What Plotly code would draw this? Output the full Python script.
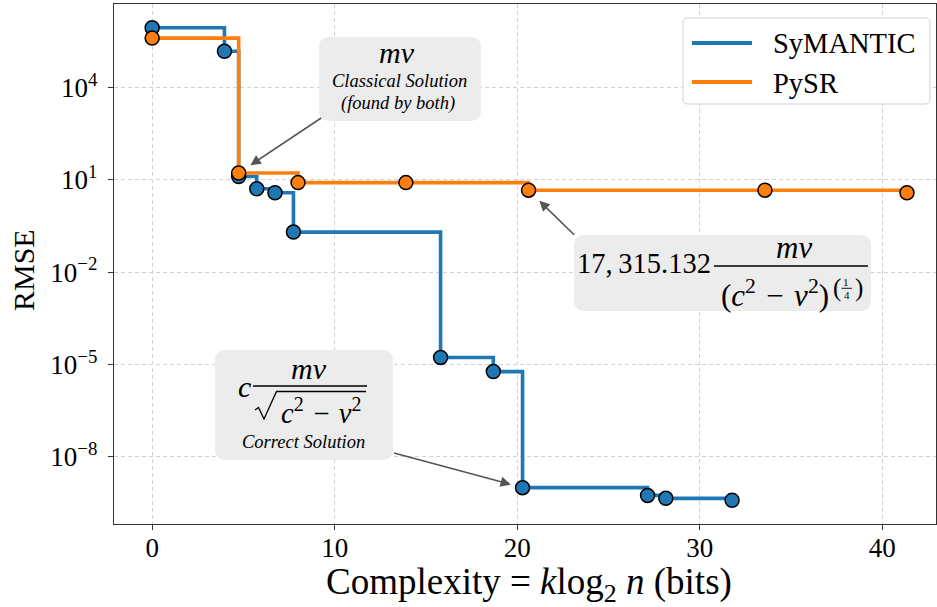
import numpy as np
import plotly.graph_objects as go

# Pareto fronts: complexity (bits) vs RMSE
symantic_complexity = [0.0, 3.96, 4.74, 5.73, 6.73, 7.74, 15.80, 18.69, 20.29, 27.14, 28.14, 31.77]
symantic_rmse = [8.7e5, 1.5e5, 12.8, 5.1, 3.8, 0.20, 1.7e-5, 5.9e-6, 1.0e-9, 5.6e-10, 4.5e-10, 3.9e-10]

pysr_complexity = [0.0, 4.74, 7.99, 13.9, 20.62, 33.57, 41.35]
pysr_rmse = [4.0e5, 16.6, 8.1, 8.1, 4.6, 4.6, 3.8]

x_ticks = [0, 10, 20, 30, 40]
y_ticks = [1e-8, 1e-5, 1e-2, 1e1, 1e4]
y_tick_labels = ["10<sup>\u22128</sup>", "10<sup>\u22125</sup>", "10<sup>\u22122</sup>",
                 "10<sup>1</sup>", "10<sup>4</sup>"]

BLUE = "#1f77b4"
ORANGE = "#ff7f0e"
FONT = "Liberation Serif"

W, H = 937, 607
L, R, T, B = 114, 1, 4, 83
PW, PH = W - L - R, H - T - B


def P(xp, yp):
    """pixel position -> paper coordinates"""
    return (xp - L) / PW, (H - B - yp) / PH


def rounded_path(x0, y0, x1, y1, r):
    pts = [("M", [(x0 + r, y0)]), ("L", [(x1 - r, y0)]), ("Q", [(x1, y0), (x1, y0 + r)]),
           ("L", [(x1, y1 - r)]), ("Q", [(x1, y1), (x1 - r, y1)]), ("L", [(x0 + r, y1)]),
           ("Q", [(x0, y1), (x0, y1 - r)]), ("L", [(x0, y0 + r)]), ("Q", [(x0, y0), (x0 + r, y0)])]
    s = ""
    for cmd, pp in pts:
        s += cmd + " " + " ".join("%.5f,%.5f" % P(a, b) for a, b in pp) + " "
    return s + "Z"


def poly_path(points):
    return "M " + " L ".join("%.5f,%.5f" % P(a, b) for a, b in points)


fig = go.Figure()
fig.add_trace(go.Scatter(
    x=symantic_complexity, y=symantic_rmse, name="SyMANTIC", mode="lines+markers",
    line=dict(color=BLUE, width=3.6, shape="hv"),
    marker=dict(size=14, color=BLUE, line=dict(color="black", width=1.5)),
    showlegend=False))
fig.add_trace(go.Scatter(
    x=pysr_complexity, y=pysr_rmse, name="PySR", mode="lines+markers",
    line=dict(color=ORANGE, width=3.6, shape="hv"),
    marker=dict(size=14, color=ORANGE, line=dict(color="black", width=1.5)),
    showlegend=False))

shapes = []
annotations = []


def text(s, xp, yp, size, xanchor="center", color="black"):
    x, y = P(xp, yp)
    annotations.append(dict(text=s, x=x, y=y, xref="paper", yref="paper", showarrow=False,
                            xanchor=xanchor, yanchor="middle",
                            font=dict(family=FONT, size=size, color=color)))


def hline(x0, x1, yp, width=1.3, color="black"):
    a = P(x0, yp)
    b = P(x1, yp)
    shapes.append(dict(type="line", xref="paper", yref="paper", x0=a[0], y0=a[1], x1=b[0], y1=b[1],
                       line=dict(color=color, width=width), layer="above"))


BOX = "#ececec"
for box in [(319, 37, 481, 121), (574, 235, 871, 311), (215, 350, 393, 460)]:
    shapes.append(dict(type="path", xref="paper", yref="paper", path=rounded_path(*box, 11),
                       fillcolor=BOX, line=dict(width=0), layer="above"))

# legend
shapes.append(dict(type="path", xref="paper", yref="paper", path=rounded_path(683, 18, 930, 104, 5),
                   fillcolor="white", line=dict(color="#d0d0d0", width=1), layer="above"))
hline(692, 752, 43, width=4, color=BLUE)
hline(692, 752, 82, width=4, color=ORANGE)
text("SyMANTIC", 771, 44, 28.5, xanchor="left")
text("PySR", 771, 83, 28.5, xanchor="left")

# classical solution box
text("<i>mv</i>", 397, 52, 30)
text("<i>Classical Solution</i>", 399, 81, 18.5)
text("<i>(found by both)</i>", 398, 103, 18.5)

# PySR expression box
SP = "\u2004"
text("17,\u2009315.132", 713, 263, 28.5, xanchor="right")
hline(714, 868, 266)
text("<i>mv</i>", 794, 247, 31)
text("(<i>c</i><sup>2</sup>" + SP + "\u2212" + SP + "<i>v</i><sup>2</sup>)", 775, 293, 31)
text("(", 837, 287.5, 25)
text(")", 859, 287.5, 25)
text("1", 846, 281.5, 11)
hline(841.5, 852, 288.3, width=0.9)
text("4", 846.5, 294.5, 11)

# correct solution box
text("<i>c</i>", 244, 386, 30)
hline(253, 367, 386)
text("<i>mv</i>", 309, 368, 30)
shapes.append(dict(type="path", xref="paper", yref="paper",
                   path=poly_path([(255, 410), (258.5, 407.5), (264, 419), (276.5, 391.5), (366, 391.5)]),
                   line=dict(color="black", width=1.3), layer="above"))
text("<i>c</i><sup>2</sup>" + SP + "\u2212" + SP + "<i>v</i><sup>2</sup>", 321, 411, 28.5)
text("<i>Correct Solution</i>", 303.5, 442, 18.5)

# arrows to the annotated fronts
ARROW = "#555555"
for xv, yv, ax, ay, so in [(pysr_complexity[1], pysr_rmse[1], 84, -56, 14),
                           (pysr_complexity[4], pysr_rmse[4], 47, 46, 15),
                           (symantic_complexity[8], symantic_rmse[8], -130, -35, 12)]:
    annotations.append(dict(x=xv, y=np.log10(yv), xref="x", yref="y", text="", showarrow=True,
                            ax=ax, ay=ay, axref="pixel", ayref="pixel", arrowhead=2,
                            arrowsize=1.3, arrowwidth=1.6, arrowcolor=ARROW, standoff=so))

# axis titles
text("Complexity = <i>k</i>log<sub>2</sub> <i>n</i> (bits)", 529, 584, 37)
x, y = P(23, 270)
annotations.append(dict(text="RMSE", x=x, y=y, xref="paper", yref="paper", showarrow=False,
                        textangle=-90, xanchor="center", yanchor="middle",
                        font=dict(family=FONT, size=30, color="black")))

axis_common = dict(showline=True, linecolor="#333333", linewidth=1.3, mirror=True,
                   ticks="outside", ticklen=5, tickwidth=1.2, tickcolor="#333333",
                   showgrid=True, gridcolor="#d2d2d2", gridwidth=1, griddash="4px,3px",
                   zeroline=False, tickfont=dict(family=FONT, size=27, color="black"))

fig.update_xaxes(range=[-2.09, 42.94], tickvals=x_ticks, ticklabelstandoff=-6, **axis_common)
fig.update_yaxes(type="log", range=[-10.18, 6.71], tickvals=y_ticks, ticktext=y_tick_labels,
                 ticklabelstandoff=5, **axis_common)

fig.update_layout(width=W, height=H, margin=dict(l=L, r=R, t=T, b=B, autoexpand=False),
                  plot_bgcolor="white", paper_bgcolor="white",
                  shapes=shapes, annotations=annotations, showlegend=False)

fig.write_html("out.html")
